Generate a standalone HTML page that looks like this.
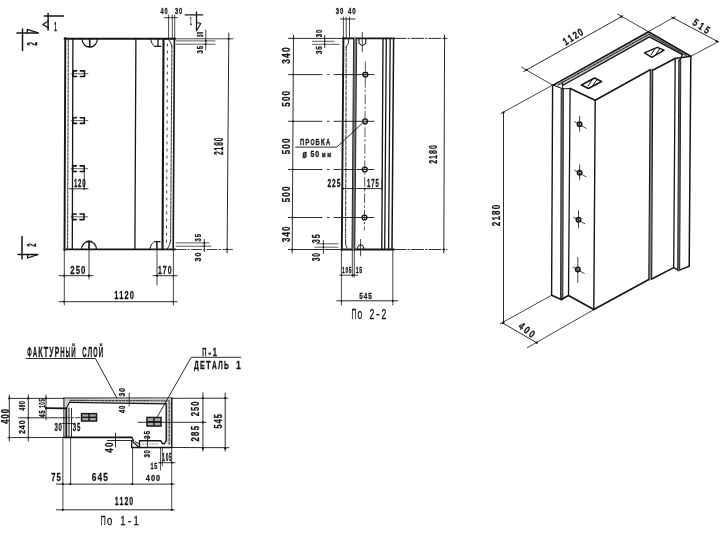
<!DOCTYPE html>
<html><head><meta charset="utf-8"><style>
html,body{margin:0;padding:0;background:#fff;}
svg{display:block;will-change:transform;}
text{font-family:"Liberation Sans",sans-serif;}
</style></head><body>
<svg width="725" height="538" viewBox="0 0 725 538" stroke-linecap="round">
<line x1="64.50" y1="38.80" x2="175.20" y2="38.80" stroke="#161616" stroke-width="1.9"/>
<line x1="64.50" y1="249.40" x2="175.20" y2="249.40" stroke="#161616" stroke-width="1.9"/>
<line x1="65.30" y1="38.00" x2="64.50" y2="250.20" stroke="#161616" stroke-width="1.9"/>
<line x1="174.40" y1="38.00" x2="173.20" y2="250.20" stroke="#161616" stroke-width="1.6"/>
<line x1="68.30" y1="39.50" x2="67.60" y2="249.00" stroke="#161616" stroke-width="0.9" stroke-dasharray="3,1.2"/>
<line x1="72.90" y1="39.00" x2="72.30" y2="249.40" stroke="#161616" stroke-width="1.3"/>
<line x1="135.90" y1="39.00" x2="134.90" y2="249.40" stroke="#161616" stroke-width="1.3"/>
<line x1="163.50" y1="39.00" x2="162.50" y2="249.40" stroke="#161616" stroke-width="2.1"/>
<line x1="171.90" y1="46.00" x2="170.60" y2="241.00" stroke="#161616" stroke-width="0.9" stroke-dasharray="3,1.2"/>
<path d="M163.8,39 L168,39 Q170.5,41 171.9,46" stroke="#161616" stroke-width="0.9" fill="none"/>
<path d="M167.5,44 L166.5,244" stroke="#161616" stroke-width="0.8" fill="none" stroke-dasharray="2,5"/>
<path d="M170.6,241 Q170,246 167.2,249" stroke="#161616" stroke-width="0.9" fill="none"/>
<path d="M82,38.8 A7.7,8.4 0 0 0 97.4,38.8" stroke="#161616" stroke-width="1.2" fill="none"/>
<line x1="89.70" y1="38.80" x2="89.70" y2="47.00" stroke="#161616" stroke-width="1.6"/>
<line x1="87.00" y1="46.50" x2="92.00" y2="46.50" stroke="#161616" stroke-width="1.2"/>
<path d="M81.5,249.4 A7.5,8 0 0 1 96.5,249.4" stroke="#161616" stroke-width="1.2" fill="none"/>
<line x1="89.00" y1="241.00" x2="89.00" y2="249.40" stroke="#161616" stroke-width="1.6"/>
<line x1="86.50" y1="241.50" x2="91.50" y2="241.50" stroke="#161616" stroke-width="1.3"/>
<path d="M150.5,39 Q151.5,44 153.5,45.5" stroke="#161616" stroke-width="1.0" fill="none"/>
<line x1="158.00" y1="39.00" x2="158.00" y2="46.30" stroke="#161616" stroke-width="1.3"/>
<line x1="154.50" y1="46.30" x2="161.00" y2="46.30" stroke="#161616" stroke-width="1.2"/>
<path d="M149.5,249.4 Q151,244 153,242.5" stroke="#161616" stroke-width="1.0" fill="none"/>
<line x1="156.90" y1="241.60" x2="156.90" y2="249.40" stroke="#161616" stroke-width="1.5"/>
<line x1="154.50" y1="241.60" x2="160.00" y2="241.60" stroke="#161616" stroke-width="1.4"/>
<path d="M76.60,70.90 L73.00,70.90 L73.00,76.50 L76.60,76.50" stroke="#161616" stroke-width="1.6" fill="none" stroke-linejoin="round"/>
<path d="M80.40,70.90 L84.50,70.90 L84.50,76.50 L80.40,76.50" stroke="#161616" stroke-width="1.6" fill="none" stroke-linejoin="round"/>
<line x1="71.50" y1="73.70" x2="88.00" y2="73.70" stroke="#161616" stroke-width="0.7"/>
<path d="M76.47,117.80 L72.87,117.80 L72.87,123.40 L76.47,123.40" stroke="#161616" stroke-width="1.6" fill="none" stroke-linejoin="round"/>
<path d="M80.27,117.80 L84.37,117.80 L84.37,123.40 L80.27,123.40" stroke="#161616" stroke-width="1.6" fill="none" stroke-linejoin="round"/>
<line x1="71.37" y1="120.60" x2="87.87" y2="120.60" stroke="#161616" stroke-width="0.7"/>
<path d="M76.33,165.90 L72.73,165.90 L72.73,171.50 L76.33,171.50" stroke="#161616" stroke-width="1.6" fill="none" stroke-linejoin="round"/>
<path d="M80.13,165.90 L84.23,165.90 L84.23,171.50 L80.13,171.50" stroke="#161616" stroke-width="1.6" fill="none" stroke-linejoin="round"/>
<line x1="71.23" y1="168.70" x2="87.73" y2="168.70" stroke="#161616" stroke-width="0.7"/>
<path d="M76.19,214.00 L72.59,214.00 L72.59,219.60 L76.19,219.60" stroke="#161616" stroke-width="1.6" fill="none" stroke-linejoin="round"/>
<path d="M79.99,214.00 L84.09,214.00 L84.09,219.60 L79.99,219.60" stroke="#161616" stroke-width="1.6" fill="none" stroke-linejoin="round"/>
<line x1="71.09" y1="216.80" x2="87.59" y2="216.80" stroke="#161616" stroke-width="0.7"/>
<g transform="translate(79.75,183.25) rotate(0)" fill="#161616"><text transform="translate(-5.83,3.75) scale(0.00600,0.01090)" font-size="1000" font-weight="bold" stroke="#161616" stroke-width="30">1</text><text transform="translate(-1.67,3.75) scale(0.00600,0.01090)" font-size="1000" font-weight="bold" stroke="#161616" stroke-width="30">2</text><text transform="translate(2.50,3.75) scale(0.00600,0.01090)" font-size="1000" font-weight="bold" stroke="#161616" stroke-width="30">0</text></g>
<line x1="69.30" y1="188.80" x2="88.00" y2="188.80" stroke="#161616" stroke-width="0.9"/>
<circle cx="84.3" cy="188.8" r="0.9" fill="#161616"/>
<circle cx="72.5" cy="188.8" r="0.9" fill="#161616"/>
<line x1="84.30" y1="171.50" x2="84.30" y2="189.00" stroke="#161616" stroke-width="0.8"/>
<line x1="64.30" y1="250.00" x2="64.30" y2="305.00" stroke="#161616" stroke-width="0.8"/>
<line x1="89.00" y1="250.00" x2="89.00" y2="279.00" stroke="#161616" stroke-width="0.8"/>
<line x1="157.00" y1="250.00" x2="157.00" y2="285.00" stroke="#161616" stroke-width="0.8"/>
<line x1="173.40" y1="250.00" x2="173.40" y2="305.00" stroke="#161616" stroke-width="0.8"/>
<line x1="59.00" y1="275.70" x2="93.00" y2="275.70" stroke="#161616" stroke-width="0.9"/>
<circle cx="64.3" cy="275.7" r="1.1" fill="#161616"/>
<circle cx="89" cy="275.7" r="1.1" fill="#161616"/>
<line x1="153.00" y1="275.70" x2="177.00" y2="275.70" stroke="#161616" stroke-width="0.9"/>
<circle cx="157" cy="275.7" r="1.1" fill="#161616"/>
<circle cx="173.4" cy="275.7" r="1.1" fill="#161616"/>
<line x1="59.00" y1="301.70" x2="177.00" y2="301.70" stroke="#161616" stroke-width="0.9"/>
<circle cx="64.3" cy="301.7" r="1.1" fill="#161616"/>
<circle cx="173.4" cy="301.7" r="1.1" fill="#161616"/>
<g transform="translate(77.80,269.95) rotate(0)" fill="#161616"><text transform="translate(-7.56,3.95) scale(0.00777,0.01148)" font-size="1000" font-weight="bold" stroke="#161616" stroke-width="26">2</text><text transform="translate(-2.16,3.95) scale(0.00777,0.01148)" font-size="1000" font-weight="bold" stroke="#161616" stroke-width="26">5</text><text transform="translate(3.24,3.95) scale(0.00777,0.01148)" font-size="1000" font-weight="bold" stroke="#161616" stroke-width="26">0</text></g>
<g transform="translate(164.75,269.95) rotate(0)" fill="#161616"><text transform="translate(-6.77,3.95) scale(0.00695,0.01148)" font-size="1000" font-weight="bold" stroke="#161616" stroke-width="27">1</text><text transform="translate(-1.93,3.95) scale(0.00695,0.01148)" font-size="1000" font-weight="bold" stroke="#161616" stroke-width="27">7</text><text transform="translate(2.90,3.95) scale(0.00695,0.01148)" font-size="1000" font-weight="bold" stroke="#161616" stroke-width="27">0</text></g>
<g transform="translate(124.00,295.55) rotate(0)" fill="#161616"><text transform="translate(-9.79,3.65) scale(0.00741,0.01061)" font-size="1000" font-weight="bold" stroke="#161616" stroke-width="28">1</text><text transform="translate(-4.64,3.65) scale(0.00741,0.01061)" font-size="1000" font-weight="bold" stroke="#161616" stroke-width="28">1</text><text transform="translate(0.52,3.65) scale(0.00741,0.01061)" font-size="1000" font-weight="bold" stroke="#161616" stroke-width="28">2</text><text transform="translate(5.67,3.65) scale(0.00741,0.01061)" font-size="1000" font-weight="bold" stroke="#161616" stroke-width="28">0</text></g>
<line x1="176.00" y1="38.80" x2="233.00" y2="38.80" stroke="#161616" stroke-width="0.8"/>
<line x1="176.00" y1="249.50" x2="233.00" y2="249.50" stroke="#161616" stroke-width="0.8" stroke-dasharray="10,2,1.5,2"/>
<line x1="228.80" y1="33.00" x2="227.10" y2="253.00" stroke="#161616" stroke-width="0.9"/>
<circle cx="228.7" cy="38.8" r="1.1" fill="#161616"/>
<circle cx="227.2" cy="249.4" r="1.1" fill="#161616"/>
<g transform="translate(219.10,146.30) rotate(-90)" fill="#161616"><text transform="translate(-8.65,4.10) scale(0.00655,0.01192)" font-size="1000" font-weight="bold" stroke="#161616" stroke-width="27">2</text><text transform="translate(-4.10,4.10) scale(0.00655,0.01192)" font-size="1000" font-weight="bold" stroke="#161616" stroke-width="27">1</text><text transform="translate(0.46,4.10) scale(0.00655,0.01192)" font-size="1000" font-weight="bold" stroke="#161616" stroke-width="27">8</text><text transform="translate(5.01,4.10) scale(0.00655,0.01192)" font-size="1000" font-weight="bold" stroke="#161616" stroke-width="27">0</text></g>
<line x1="176.00" y1="40.90" x2="215.00" y2="40.90" stroke="#161616" stroke-width="0.7"/>
<line x1="176.00" y1="44.20" x2="215.00" y2="44.20" stroke="#161616" stroke-width="0.7"/>
<line x1="205.80" y1="30.00" x2="205.80" y2="50.00" stroke="#161616" stroke-width="0.8"/>
<circle cx="205.8" cy="40.9" r="0.9" fill="#161616"/>
<circle cx="205.8" cy="44.2" r="0.9" fill="#161616"/>
<g transform="translate(199.75,34.50) rotate(-90)" fill="#161616"><text transform="translate(-2.61,3.25) scale(0.00417,0.00945)" font-size="1000" font-weight="bold" stroke="#161616" stroke-width="37">3</text><text transform="translate(0.29,3.25) scale(0.00417,0.00945)" font-size="1000" font-weight="bold" stroke="#161616" stroke-width="37">0</text></g>
<g transform="translate(199.75,49.75) rotate(-90)" fill="#161616"><text transform="translate(-3.83,3.25) scale(0.00612,0.00945)" font-size="1000" font-weight="bold" stroke="#161616" stroke-width="32">3</text><text transform="translate(0.42,3.25) scale(0.00612,0.00945)" font-size="1000" font-weight="bold" stroke="#161616" stroke-width="32">5</text></g>
<line x1="176.00" y1="242.90" x2="209.00" y2="242.90" stroke="#161616" stroke-width="0.7"/>
<line x1="176.00" y1="246.20" x2="211.00" y2="246.20" stroke="#161616" stroke-width="0.7"/>
<line x1="204.30" y1="239.50" x2="204.30" y2="251.50" stroke="#161616" stroke-width="0.9"/>
<circle cx="204.3" cy="243" r="0.9" fill="#161616"/>
<circle cx="204.3" cy="246.2" r="0.9" fill="#161616"/>
<g transform="translate(197.85,237.75) rotate(-90)" fill="#161616"><text transform="translate(-3.74,3.35) scale(0.00597,0.00974)" font-size="1000" font-weight="bold" stroke="#161616" stroke-width="32">3</text><text transform="translate(0.42,3.35) scale(0.00597,0.00974)" font-size="1000" font-weight="bold" stroke="#161616" stroke-width="32">5</text></g>
<g transform="translate(197.85,257.00) rotate(-90)" fill="#161616"><text transform="translate(-4.50,3.35) scale(0.00719,0.00974)" font-size="1000" font-weight="bold" stroke="#161616" stroke-width="30">3</text><text transform="translate(0.50,3.35) scale(0.00719,0.00974)" font-size="1000" font-weight="bold" stroke="#161616" stroke-width="30">0</text></g>
<line x1="168.60" y1="15.00" x2="168.60" y2="38.80" stroke="#161616" stroke-width="0.8"/>
<line x1="172.30" y1="15.00" x2="172.30" y2="38.80" stroke="#161616" stroke-width="0.8"/>
<line x1="174.70" y1="15.00" x2="174.70" y2="38.80" stroke="#161616" stroke-width="0.8"/>
<line x1="164.40" y1="17.70" x2="177.40" y2="17.70" stroke="#161616" stroke-width="0.9"/>
<g transform="translate(164.15,10.25) rotate(0)" fill="#161616"><text transform="translate(-3.56,3.25) scale(0.00568,0.00945)" font-size="1000" font-weight="bold" stroke="#161616" stroke-width="33">4</text><text transform="translate(0.40,3.25) scale(0.00568,0.00945)" font-size="1000" font-weight="bold" stroke="#161616" stroke-width="33">0</text></g>
<g transform="translate(178.65,10.25) rotate(0)" fill="#161616"><text transform="translate(-3.56,3.25) scale(0.00568,0.00945)" font-size="1000" font-weight="bold" stroke="#161616" stroke-width="33">3</text><text transform="translate(0.40,3.25) scale(0.00568,0.00945)" font-size="1000" font-weight="bold" stroke="#161616" stroke-width="33">0</text></g>
<line x1="185.30" y1="14.90" x2="202.60" y2="14.90" stroke="#161616" stroke-width="1.4"/>
<line x1="196.50" y1="12.00" x2="196.50" y2="30.70" stroke="#161616" stroke-width="1.3"/>
<path d="M196.50,22.50 L200.80,23.50 L196.50,30.70" stroke="#161616" stroke-width="1.1" fill="none" stroke-linejoin="round"/>
<g transform="translate(190.80,20.70) rotate(0)" fill="#161616"><text transform="translate(-0.80,4.00) scale(0.00288,0.01163)" font-size="1000" font-weight="bold" stroke="#161616" stroke-width="34">1</text></g>
<line x1="44.40" y1="16.10" x2="63.40" y2="16.10" stroke="#161616" stroke-width="1.5"/>
<line x1="48.10" y1="13.40" x2="48.10" y2="30.10" stroke="#161616" stroke-width="1.5"/>
<path d="M48.10,21.20 L42.80,24.50 L48.10,27.60" stroke="#161616" stroke-width="1.3" fill="none" stroke-linejoin="round"/>
<g transform="translate(55.50,25.85) rotate(0)" fill="#161616"><text transform="translate(-1.28,4.65) scale(0.00460,0.01352)" font-size="1000" font-weight="bold" stroke="#161616" stroke-width="28">1</text></g>
<line x1="22.50" y1="29.10" x2="22.50" y2="50.50" stroke="#161616" stroke-width="1.5"/>
<line x1="17.00" y1="32.90" x2="38.30" y2="32.90" stroke="#161616" stroke-width="1.5"/>
<path d="M27.20,32.90 L27.20,29.30 L37.50,32.70" stroke="#161616" stroke-width="1.3" fill="none" stroke-linejoin="round"/>
<g transform="translate(32.05,44.00) rotate(-90)" fill="#161616"><text transform="translate(-1.84,4.85) scale(0.00662,0.01410)" font-size="1000" font-weight="bold" stroke="#161616" stroke-width="24">2</text></g>
<line x1="22.00" y1="236.50" x2="22.00" y2="258.90" stroke="#161616" stroke-width="1.5"/>
<line x1="18.10" y1="254.40" x2="37.60" y2="254.40" stroke="#161616" stroke-width="1.5"/>
<path d="M27.60,254.40 L27.60,258.00 L37.50,254.60" stroke="#161616" stroke-width="1.3" fill="none" stroke-linejoin="round"/>
<g transform="translate(31.45,245.10) rotate(-90)" fill="#161616"><text transform="translate(-1.68,4.25) scale(0.00604,0.01235)" font-size="1000" font-weight="bold" stroke="#161616" stroke-width="27">2</text></g>
<line x1="288.40" y1="38.40" x2="343.40" y2="38.40" stroke="#161616" stroke-width="0.9"/>
<line x1="343.00" y1="38.40" x2="394.00" y2="38.40" stroke="#161616" stroke-width="1.8"/>
<line x1="394.00" y1="38.40" x2="447.00" y2="38.40" stroke="#161616" stroke-width="0.9" stroke-dasharray="12,2,1.5,2"/>
<line x1="288.40" y1="249.50" x2="343.40" y2="249.50" stroke="#161616" stroke-width="0.9"/>
<line x1="343.00" y1="249.50" x2="394.00" y2="249.50" stroke="#161616" stroke-width="1.8"/>
<line x1="394.00" y1="249.50" x2="447.00" y2="249.50" stroke="#161616" stroke-width="0.9" stroke-dasharray="12,2,1.5,2"/>
<line x1="343.40" y1="38.00" x2="341.80" y2="250.00" stroke="#161616" stroke-width="1.9"/>
<line x1="346.20" y1="47.00" x2="345.60" y2="244.00" stroke="#161616" stroke-width="0.9" stroke-dasharray="4,1.5"/>
<path d="M345.6,244 Q346,246 347,248" stroke="#161616" stroke-width="0.9" fill="none"/>
<path d="M343.5,38.6 L349,38.8 Q349,44 346.2,47" stroke="#161616" stroke-width="0.9" fill="none"/>
<path d="M355.10,38.40 L353.40,249.50" stroke="#7a7a7a" stroke-width="3.0" fill="none" stroke-linejoin="round"/>
<line x1="353.60" y1="38.40" x2="352.00" y2="249.50" stroke="#161616" stroke-width="0.9"/>
<line x1="356.70" y1="38.40" x2="354.80" y2="249.50" stroke="#161616" stroke-width="0.9"/>
<line x1="383.00" y1="38.40" x2="381.80" y2="249.50" stroke="#161616" stroke-width="1.35"/>
<line x1="386.30" y1="38.40" x2="384.70" y2="249.50" stroke="#161616" stroke-width="1.3"/>
<line x1="390.20" y1="38.40" x2="388.60" y2="249.50" stroke="#161616" stroke-width="1.3"/>
<line x1="393.60" y1="38.40" x2="392.00" y2="249.50" stroke="#161616" stroke-width="1.5"/>
<path d="M359,38.6 L359,43 Q362.3,48 365.7,43 L365.7,38.6" stroke="#161616" stroke-width="1.1" fill="none"/>
<line x1="362.30" y1="32.20" x2="362.30" y2="51.80" stroke="#161616" stroke-width="0.8"/>
<circle cx="365.4" cy="74.6" r="2.4" stroke="#161616" stroke-width="1.4" fill="none"/>
<line x1="288.40" y1="74.60" x2="322.00" y2="74.60" stroke="#161616" stroke-width="0.9"/>
<line x1="327.50" y1="74.60" x2="329.00" y2="74.60" stroke="#161616" stroke-width="0.9"/>
<line x1="334.00" y1="74.60" x2="374.00" y2="74.60" stroke="#161616" stroke-width="0.9"/>
<circle cx="365.1060839160839" cy="121.3" r="2.4" stroke="#161616" stroke-width="1.4" fill="none"/>
<line x1="288.40" y1="121.30" x2="322.00" y2="121.30" stroke="#161616" stroke-width="0.9"/>
<line x1="327.50" y1="121.30" x2="329.00" y2="121.30" stroke="#161616" stroke-width="0.9"/>
<line x1="334.00" y1="121.30" x2="374.00" y2="121.30" stroke="#161616" stroke-width="0.9"/>
<circle cx="364.8027272727272" cy="169.5" r="2.4" stroke="#161616" stroke-width="1.4" fill="none"/>
<line x1="288.40" y1="169.50" x2="322.00" y2="169.50" stroke="#161616" stroke-width="0.9"/>
<line x1="327.50" y1="169.50" x2="329.00" y2="169.50" stroke="#161616" stroke-width="0.9"/>
<line x1="334.00" y1="169.50" x2="374.00" y2="169.50" stroke="#161616" stroke-width="0.9"/>
<circle cx="364.5006293706293" cy="217.5" r="2.4" stroke="#161616" stroke-width="1.4" fill="none"/>
<line x1="288.40" y1="217.50" x2="322.00" y2="217.50" stroke="#161616" stroke-width="0.9"/>
<line x1="327.50" y1="217.50" x2="329.00" y2="217.50" stroke="#161616" stroke-width="0.9"/>
<line x1="334.00" y1="217.50" x2="374.00" y2="217.50" stroke="#161616" stroke-width="0.9"/>
<line x1="365.40" y1="61.80" x2="364.40" y2="230.00" stroke="#161616" stroke-width="0.7" stroke-dasharray="9,3,1.5,3"/>
<path d="M357.2,249.5 A3.4,4.6 0 0 1 364,249.5" stroke="#161616" stroke-width="1.1" fill="none"/>
<line x1="360.60" y1="239.50" x2="360.60" y2="255.90" stroke="#161616" stroke-width="0.8"/>
<line x1="293.50" y1="35.00" x2="292.20" y2="253.00" stroke="#161616" stroke-width="0.9"/>
<circle cx="293.4797247706422" cy="38.4" r="1.1" fill="#161616"/>
<circle cx="293.2638532110092" cy="74.6" r="1.1" fill="#161616"/>
<circle cx="292.98536697247704" cy="121.3" r="1.1" fill="#161616"/>
<circle cx="292.69793577981653" cy="169.5" r="1.1" fill="#161616"/>
<circle cx="292.4116972477064" cy="217.5" r="1.1" fill="#161616"/>
<circle cx="292.22087155963305" cy="249.5" r="1.1" fill="#161616"/>
<g transform="translate(286.15,55.55) rotate(-90)" fill="#161616"><text transform="translate(-8.26,3.75) scale(0.00849,0.01090)" font-size="1000" font-weight="bold" stroke="#161616" stroke-width="26">3</text><text transform="translate(-2.36,3.75) scale(0.00849,0.01090)" font-size="1000" font-weight="bold" stroke="#161616" stroke-width="26">4</text><text transform="translate(3.54,3.75) scale(0.00849,0.01090)" font-size="1000" font-weight="bold" stroke="#161616" stroke-width="26">0</text></g>
<g transform="translate(286.15,98.85) rotate(-90)" fill="#161616"><text transform="translate(-7.79,3.75) scale(0.00801,0.01090)" font-size="1000" font-weight="bold" stroke="#161616" stroke-width="26">5</text><text transform="translate(-2.23,3.75) scale(0.00801,0.01090)" font-size="1000" font-weight="bold" stroke="#161616" stroke-width="26">0</text><text transform="translate(3.34,3.75) scale(0.00801,0.01090)" font-size="1000" font-weight="bold" stroke="#161616" stroke-width="26">0</text></g>
<g transform="translate(286.15,146.40) rotate(-90)" fill="#161616"><text transform="translate(-7.84,3.75) scale(0.00806,0.01090)" font-size="1000" font-weight="bold" stroke="#161616" stroke-width="26">5</text><text transform="translate(-2.24,3.75) scale(0.00806,0.01090)" font-size="1000" font-weight="bold" stroke="#161616" stroke-width="26">0</text><text transform="translate(3.36,3.75) scale(0.00806,0.01090)" font-size="1000" font-weight="bold" stroke="#161616" stroke-width="26">0</text></g>
<g transform="translate(286.15,194.40) rotate(-90)" fill="#161616"><text transform="translate(-7.84,3.75) scale(0.00806,0.01090)" font-size="1000" font-weight="bold" stroke="#161616" stroke-width="26">5</text><text transform="translate(-2.24,3.75) scale(0.00806,0.01090)" font-size="1000" font-weight="bold" stroke="#161616" stroke-width="26">0</text><text transform="translate(3.36,3.75) scale(0.00806,0.01090)" font-size="1000" font-weight="bold" stroke="#161616" stroke-width="26">0</text></g>
<g transform="translate(286.15,234.25) rotate(-90)" fill="#161616"><text transform="translate(-7.70,3.75) scale(0.00791,0.01090)" font-size="1000" font-weight="bold" stroke="#161616" stroke-width="27">3</text><text transform="translate(-2.20,3.75) scale(0.00791,0.01090)" font-size="1000" font-weight="bold" stroke="#161616" stroke-width="27">4</text><text transform="translate(3.30,3.75) scale(0.00791,0.01090)" font-size="1000" font-weight="bold" stroke="#161616" stroke-width="27">0</text></g>
<line x1="312.40" y1="41.30" x2="334.00" y2="41.30" stroke="#161616" stroke-width="0.7"/>
<line x1="312.40" y1="44.30" x2="339.00" y2="44.30" stroke="#161616" stroke-width="0.7"/>
<line x1="324.70" y1="35.50" x2="324.70" y2="47.60" stroke="#161616" stroke-width="0.9"/>
<circle cx="324.7" cy="41.3" r="0.8" fill="#161616"/>
<circle cx="324.7" cy="44.3" r="0.8" fill="#161616"/>
<g transform="translate(318.85,33.40) rotate(-90)" fill="#161616"><text transform="translate(-3.78,3.35) scale(0.00604,0.00974)" font-size="1000" font-weight="bold" stroke="#161616" stroke-width="32">3</text><text transform="translate(0.42,3.35) scale(0.00604,0.00974)" font-size="1000" font-weight="bold" stroke="#161616" stroke-width="32">0</text></g>
<g transform="translate(318.85,50.10) rotate(-90)" fill="#161616"><text transform="translate(-4.14,3.35) scale(0.00662,0.00974)" font-size="1000" font-weight="bold" stroke="#161616" stroke-width="31">3</text><text transform="translate(0.46,3.35) scale(0.00662,0.00974)" font-size="1000" font-weight="bold" stroke="#161616" stroke-width="31">5</text></g>
<line x1="316.50" y1="243.80" x2="338.00" y2="243.80" stroke="#161616" stroke-width="0.7"/>
<line x1="315.00" y1="247.20" x2="338.00" y2="247.20" stroke="#161616" stroke-width="0.7"/>
<line x1="323.40" y1="240.50" x2="323.40" y2="253.50" stroke="#161616" stroke-width="0.9"/>
<circle cx="323.4" cy="243.8" r="0.8" fill="#161616"/>
<circle cx="323.4" cy="247.2" r="0.8" fill="#161616"/>
<g transform="translate(316.30,238.80) rotate(-90)" fill="#161616"><text transform="translate(-4.50,3.70) scale(0.00719,0.01076)" font-size="1000" font-weight="bold" stroke="#161616" stroke-width="28">3</text><text transform="translate(0.50,3.70) scale(0.00719,0.01076)" font-size="1000" font-weight="bold" stroke="#161616" stroke-width="28">5</text></g>
<g transform="translate(316.30,257.20) rotate(-90)" fill="#161616"><text transform="translate(-4.14,3.70) scale(0.00662,0.01076)" font-size="1000" font-weight="bold" stroke="#161616" stroke-width="29">3</text><text transform="translate(0.46,3.70) scale(0.00662,0.01076)" font-size="1000" font-weight="bold" stroke="#161616" stroke-width="29">0</text></g>
<line x1="340.30" y1="19.00" x2="355.00" y2="19.00" stroke="#161616" stroke-width="0.9"/>
<line x1="343.40" y1="17.00" x2="343.40" y2="38.40" stroke="#161616" stroke-width="0.8"/>
<line x1="346.20" y1="17.00" x2="346.20" y2="38.40" stroke="#161616" stroke-width="0.8"/>
<line x1="349.50" y1="17.00" x2="349.50" y2="38.40" stroke="#161616" stroke-width="0.8"/>
<g transform="translate(339.50,10.65) rotate(0)" fill="#161616"><text transform="translate(-3.78,3.35) scale(0.00604,0.00974)" font-size="1000" font-weight="bold" stroke="#161616" stroke-width="32">3</text><text transform="translate(0.42,3.35) scale(0.00604,0.00974)" font-size="1000" font-weight="bold" stroke="#161616" stroke-width="32">0</text></g>
<g transform="translate(351.75,10.65) rotate(0)" fill="#161616"><text transform="translate(-3.83,3.35) scale(0.00612,0.00974)" font-size="1000" font-weight="bold" stroke="#161616" stroke-width="32">4</text><text transform="translate(0.42,3.35) scale(0.00612,0.00974)" font-size="1000" font-weight="bold" stroke="#161616" stroke-width="32">0</text></g>
<g transform="translate(315.10,141.25) rotate(0)" fill="#161616"><text transform="translate(-15.08,3.35) scale(0.00579,0.00974)" font-size="1000" font-weight="bold" stroke="#161616" stroke-width="32">П</text><text transform="translate(-9.88,3.35) scale(0.00624,0.00974)" font-size="1000" font-weight="bold" stroke="#161616" stroke-width="31">Р</text><text transform="translate(-4.68,3.35) scale(0.00535,0.00974)" font-size="1000" font-weight="bold" stroke="#161616" stroke-width="33">О</text><text transform="translate(0.52,3.35) scale(0.00579,0.00974)" font-size="1000" font-weight="bold" stroke="#161616" stroke-width="32">Б</text><text transform="translate(5.72,3.35) scale(0.00680,0.00974)" font-size="1000" font-weight="bold" stroke="#161616" stroke-width="30">К</text><text transform="translate(10.92,3.35) scale(0.00576,0.00974)" font-size="1000" font-weight="bold" stroke="#161616" stroke-width="32">А</text></g>
<g transform="translate(304.80,154.60) rotate(0)" fill="#161616"><text transform="translate(-2.20,3.60) scale(0.00720,0.01047)" font-size="1000" font-weight="bold" stroke="#161616" stroke-width="28">ø</text></g>
<g transform="translate(314.75,154.35) rotate(0)" fill="#161616"><text transform="translate(-4.28,3.05) scale(0.00683,0.00887)" font-size="1000" font-weight="bold" stroke="#161616" stroke-width="32">5</text><text transform="translate(0.47,3.05) scale(0.00683,0.00887)" font-size="1000" font-weight="bold" stroke="#161616" stroke-width="32">0</text></g>
<g transform="translate(326.45,155.10) rotate(0)" fill="#161616"><text transform="translate(-4.65,2.30) scale(0.00522,0.00669)" font-size="1000" font-weight="bold" stroke="#161616" stroke-width="42">м</text><text transform="translate(0.80,2.30) scale(0.00522,0.00669)" font-size="1000" font-weight="bold" stroke="#161616" stroke-width="42">м</text></g>
<path d="M295.60,147.10 L336.90,147.10 L362.60,123.00" stroke="#161616" stroke-width="0.9" fill="none" stroke-linejoin="round"/>
<line x1="341.60" y1="188.60" x2="382.00" y2="188.60" stroke="#161616" stroke-width="0.9"/>
<circle cx="343.2" cy="188.6" r="0.9" fill="#161616"/>
<circle cx="365" cy="188.6" r="0.9" fill="#161616"/>
<g transform="translate(333.95,182.65) rotate(0)" fill="#161616"><text transform="translate(-6.49,3.85) scale(0.00667,0.01119)" font-size="1000" font-weight="bold" stroke="#161616" stroke-width="28">2</text><text transform="translate(-1.85,3.85) scale(0.00667,0.01119)" font-size="1000" font-weight="bold" stroke="#161616" stroke-width="28">2</text><text transform="translate(2.78,3.85) scale(0.00667,0.01119)" font-size="1000" font-weight="bold" stroke="#161616" stroke-width="28">5</text></g>
<g transform="translate(373.00,182.65) rotate(0)" fill="#161616"><text transform="translate(-5.88,3.85) scale(0.00604,0.01119)" font-size="1000" font-weight="bold" stroke="#161616" stroke-width="29">1</text><text transform="translate(-1.68,3.85) scale(0.00604,0.01119)" font-size="1000" font-weight="bold" stroke="#161616" stroke-width="29">7</text><text transform="translate(2.52,3.85) scale(0.00604,0.01119)" font-size="1000" font-weight="bold" stroke="#161616" stroke-width="29">5</text></g>
<line x1="382.00" y1="180.00" x2="382.00" y2="190.00" stroke="#161616" stroke-width="0.8"/>
<line x1="444.60" y1="35.00" x2="443.80" y2="253.00" stroke="#161616" stroke-width="0.9"/>
<circle cx="444.6" cy="38.4" r="1.1" fill="#161616"/>
<circle cx="443.8" cy="249.5" r="1.1" fill="#161616"/>
<g transform="translate(433.15,154.50) rotate(-90)" fill="#161616"><text transform="translate(-9.31,3.65) scale(0.00705,0.01061)" font-size="1000" font-weight="bold" stroke="#161616" stroke-width="28">2</text><text transform="translate(-4.41,3.65) scale(0.00705,0.01061)" font-size="1000" font-weight="bold" stroke="#161616" stroke-width="28">1</text><text transform="translate(0.49,3.65) scale(0.00705,0.01061)" font-size="1000" font-weight="bold" stroke="#161616" stroke-width="28">8</text><text transform="translate(5.39,3.65) scale(0.00705,0.01061)" font-size="1000" font-weight="bold" stroke="#161616" stroke-width="28">0</text></g>
<line x1="341.40" y1="250.00" x2="341.40" y2="305.00" stroke="#161616" stroke-width="0.8"/>
<line x1="352.30" y1="250.00" x2="352.30" y2="277.00" stroke="#161616" stroke-width="0.8"/>
<line x1="354.30" y1="250.00" x2="354.30" y2="277.00" stroke="#161616" stroke-width="0.8"/>
<line x1="392.80" y1="250.00" x2="392.80" y2="305.00" stroke="#161616" stroke-width="0.8"/>
<line x1="340.00" y1="275.20" x2="357.60" y2="275.20" stroke="#161616" stroke-width="0.8"/>
<circle cx="341.4" cy="275.2" r="0.9" fill="#161616"/>
<circle cx="353.3" cy="275.2" r="0.9" fill="#161616"/>
<g transform="translate(346.75,270.00) rotate(0)" fill="#161616"><text transform="translate(-4.71,3.20) scale(0.00484,0.00930)" font-size="1000" font-weight="bold" stroke="#161616" stroke-width="35">1</text><text transform="translate(-1.35,3.20) scale(0.00484,0.00930)" font-size="1000" font-weight="bold" stroke="#161616" stroke-width="35">0</text><text transform="translate(2.02,3.20) scale(0.00484,0.00930)" font-size="1000" font-weight="bold" stroke="#161616" stroke-width="35">5</text></g>
<g transform="translate(359.00,270.00) rotate(0)" fill="#161616"><text transform="translate(-3.24,3.20) scale(0.00518,0.00930)" font-size="1000" font-weight="bold" stroke="#161616" stroke-width="35">1</text><text transform="translate(0.36,3.20) scale(0.00518,0.00930)" font-size="1000" font-weight="bold" stroke="#161616" stroke-width="35">5</text></g>
<line x1="336.70" y1="300.80" x2="397.80" y2="300.80" stroke="#161616" stroke-width="0.9"/>
<circle cx="341.4" cy="300.8" r="1.1" fill="#161616"/>
<circle cx="392.8" cy="300.8" r="1.1" fill="#161616"/>
<g transform="translate(365.50,295.25) rotate(0)" fill="#161616"><text transform="translate(-6.25,3.35) scale(0.00643,0.00974)" font-size="1000" font-weight="bold" stroke="#161616" stroke-width="31">5</text><text transform="translate(-1.79,3.35) scale(0.00643,0.00974)" font-size="1000" font-weight="bold" stroke="#161616" stroke-width="31">4</text><text transform="translate(2.68,3.35) scale(0.00643,0.00974)" font-size="1000" font-weight="bold" stroke="#161616" stroke-width="31">5</text></g>
<g transform="translate(368.90,313.65) rotate(0)" fill="#161616"><text transform="translate(-17.40,5.05) scale(0.00668,0.01468)" font-size="1000" font-weight="normal" stroke="#161616" stroke-width="23">П</text><text transform="translate(-11.40,5.05) scale(0.00863,0.01468)" font-size="1000" font-weight="normal" stroke="#161616" stroke-width="21">о</text><text transform="translate(0.60,5.05) scale(0.00863,0.01468)" font-size="1000" font-weight="normal" stroke="#161616" stroke-width="21">2</text><text transform="translate(7.09,5.05) scale(0.01145,0.01468)" font-size="1000" font-weight="normal" stroke="#161616" stroke-width="19">-</text><text transform="translate(12.60,5.05) scale(0.00863,0.01468)" font-size="1000" font-weight="normal" stroke="#161616" stroke-width="21">2</text></g>
<line x1="552.60" y1="85.10" x2="551.60" y2="295.30" stroke="#161616" stroke-width="1.4"/>
<line x1="562.30" y1="89.30" x2="561.70" y2="299.40" stroke="#9a9a9a" stroke-width="2.6"/>
<line x1="561.20" y1="89.30" x2="560.60" y2="299.40" stroke="#161616" stroke-width="0.9"/>
<line x1="563.40" y1="89.30" x2="562.80" y2="299.40" stroke="#161616" stroke-width="0.9"/>
<line x1="562.30" y1="89.30" x2="561.70" y2="299.40" stroke="#333" stroke-width="0.8" stroke-dasharray="1.2,1.2"/>
<line x1="570.10" y1="88.50" x2="568.50" y2="295.60" stroke="#161616" stroke-width="1.3"/>
<line x1="595.20" y1="100.20" x2="593.80" y2="309.60" stroke="#161616" stroke-width="1.4"/>
<path d="M551.60,295.30 L561.20,299.50 L568.50,295.60 L593.80,309.60 L648.80,279.60" stroke="#161616" stroke-width="1.7" fill="none" stroke-linejoin="round"/>
<path d="M651.70,279.00 L673.70,267.60 L678.70,270.40 L689.20,266.20" stroke="#161616" stroke-width="1.5" fill="none" stroke-linejoin="round"/>
<path d="M570.10,88.50 L595.20,100.20 L650.20,69.80 L653.70,69.80 L675.00,58.50" stroke="#161616" stroke-width="1.6" fill="none" stroke-linejoin="round"/>
<line x1="651.50" y1="69.80" x2="650.20" y2="279.30" stroke="#888" stroke-width="2.4"/>
<line x1="650.30" y1="69.80" x2="648.80" y2="279.60" stroke="#161616" stroke-width="1.1"/>
<line x1="652.70" y1="69.80" x2="651.70" y2="279.00" stroke="#161616" stroke-width="1.1"/>
<line x1="675.20" y1="58.50" x2="673.70" y2="267.60" stroke="#161616" stroke-width="1.3"/>
<line x1="679.80" y1="60.20" x2="678.70" y2="270.40" stroke="#9a9a9a" stroke-width="2.4"/>
<line x1="678.80" y1="60.20" x2="677.70" y2="270.40" stroke="#161616" stroke-width="0.9"/>
<line x1="680.80" y1="60.20" x2="679.70" y2="270.40" stroke="#161616" stroke-width="0.9"/>
<line x1="679.80" y1="60.20" x2="678.70" y2="270.40" stroke="#333" stroke-width="0.8" stroke-dasharray="1.2,1.2"/>
<line x1="690.80" y1="56.30" x2="689.20" y2="266.20" stroke="#161616" stroke-width="1.5"/>
<path d="M553.20,85.10 L648.50,31.70 L690.80,56.30 L682.50,54.60 L649.40,36.90 L562.60,85.50 Z" stroke="none" stroke-width="0.1" fill="#c4c4c4" stroke-linejoin="round"/>
<path d="M553.20,85.10 L648.50,31.70 L690.80,56.30 L675.00,58.50" stroke="#161616" stroke-width="1.6" fill="none" stroke-linejoin="round"/>
<path d="M562.60,85.50 L649.40,36.90 L682.50,54.60 L679.80,60.20" stroke="#161616" stroke-width="1.3" fill="none" stroke-linejoin="round"/>
<path d="M558.00,84.90 L649.00,34.30 L686.50,55.80" stroke="#333" stroke-width="1.2" fill="none" stroke-linejoin="round" stroke-dasharray="2.5,1.2"/>
<path d="M553.20,85.10 L562.60,88.80 L570.10,88.50" stroke="#161616" stroke-width="1.1" fill="none" stroke-linejoin="round"/>
<line x1="562.60" y1="83.50" x2="562.60" y2="89.00" stroke="#161616" stroke-width="1.0"/>
<path d="M581.40,85.00 L594.60,78.00 L601.60,81.50 L588.40,88.50 Z" stroke="#161616" stroke-width="1.5" fill="none" stroke-linejoin="round"/>
<line x1="588.00" y1="86.00" x2="592.00" y2="80.00" stroke="#161616" stroke-width="1.0"/>
<line x1="592.50" y1="86.00" x2="597.00" y2="79.50" stroke="#161616" stroke-width="1.0"/>
<path d="M644.50,52.90 L657.30,47.30 L664.00,50.10 L651.80,57.40 Z" stroke="#161616" stroke-width="1.4" fill="none" stroke-linejoin="round"/>
<line x1="651.00" y1="55.00" x2="654.50" y2="49.50" stroke="#161616" stroke-width="1.0"/>
<line x1="655.50" y1="55.00" x2="659.50" y2="49.00" stroke="#161616" stroke-width="1.0"/>
<circle cx="579.6" cy="124.3" r="2.2" stroke="#161616" stroke-width="1.6" fill="none"/>
<line x1="579.60" y1="116.30" x2="579.60" y2="131.30" stroke="#161616" stroke-width="0.8"/>
<line x1="574.60" y1="121.80" x2="586.10" y2="128.30" stroke="#161616" stroke-width="0.8"/>
<circle cx="579.6" cy="172.8" r="2.2" stroke="#161616" stroke-width="1.6" fill="none"/>
<line x1="579.60" y1="164.80" x2="579.60" y2="179.80" stroke="#161616" stroke-width="0.8"/>
<line x1="574.60" y1="170.30" x2="586.10" y2="176.80" stroke="#161616" stroke-width="0.8"/>
<circle cx="578.5" cy="219.8" r="2.2" stroke="#161616" stroke-width="1.6" fill="none"/>
<line x1="578.50" y1="210.80" x2="578.50" y2="227.80" stroke="#161616" stroke-width="0.8"/>
<line x1="573.50" y1="217.30" x2="585.00" y2="223.80" stroke="#161616" stroke-width="0.8"/>
<circle cx="577.8" cy="269.5" r="2.2" stroke="#161616" stroke-width="1.6" fill="none"/>
<line x1="577.80" y1="257.50" x2="577.80" y2="282.50" stroke="#161616" stroke-width="0.8"/>
<line x1="572.80" y1="267.00" x2="584.30" y2="273.50" stroke="#161616" stroke-width="0.8"/>
<line x1="552.60" y1="85.10" x2="521.50" y2="67.20" stroke="#161616" stroke-width="0.8"/>
<line x1="648.40" y1="31.70" x2="617.50" y2="14.00" stroke="#161616" stroke-width="0.8"/>
<line x1="523.50" y1="71.60" x2="623.00" y2="15.80" stroke="#161616" stroke-width="0.9"/>
<circle cx="526.5" cy="69.9" r="1.1" fill="#161616"/>
<circle cx="621.3" cy="16.7" r="1.1" fill="#161616"/>
<g transform="translate(573.00,36.80) rotate(-32)" fill="#161616"><text transform="translate(-10.97,3.60) scale(0.00816,0.01047)" font-size="1000" font-weight="bold" stroke="#161616" stroke-width="27">1</text><text transform="translate(-5.17,3.60) scale(0.00816,0.01047)" font-size="1000" font-weight="bold" stroke="#161616" stroke-width="27">1</text><text transform="translate(0.63,3.60) scale(0.00816,0.01047)" font-size="1000" font-weight="bold" stroke="#161616" stroke-width="27">2</text><text transform="translate(6.43,3.60) scale(0.00816,0.01047)" font-size="1000" font-weight="bold" stroke="#161616" stroke-width="27">0</text></g>
<line x1="648.40" y1="31.70" x2="675.20" y2="16.60" stroke="#161616" stroke-width="0.8"/>
<line x1="690.80" y1="56.30" x2="718.50" y2="41.50" stroke="#161616" stroke-width="0.8"/>
<line x1="671.70" y1="17.10" x2="718.50" y2="42.00" stroke="#161616" stroke-width="0.9"/>
<circle cx="673.5" cy="18" r="1.1" fill="#161616"/>
<circle cx="716.5" cy="41" r="1.1" fill="#161616"/>
<g transform="translate(701.40,26.20) rotate(33)" fill="#161616"><text transform="translate(-9.20,3.60) scale(0.00816,0.01047)" font-size="1000" font-weight="bold" stroke="#161616" stroke-width="27">5</text><text transform="translate(-2.27,3.60) scale(0.00816,0.01047)" font-size="1000" font-weight="bold" stroke="#161616" stroke-width="27">1</text><text transform="translate(4.66,3.60) scale(0.00816,0.01047)" font-size="1000" font-weight="bold" stroke="#161616" stroke-width="27">5</text></g>
<line x1="552.60" y1="85.10" x2="501.00" y2="113.50" stroke="#161616" stroke-width="0.8"/>
<line x1="551.60" y1="295.30" x2="500.30" y2="323.70" stroke="#161616" stroke-width="0.8"/>
<line x1="503.50" y1="112.60" x2="503.50" y2="322.70" stroke="#161616" stroke-width="0.9"/>
<circle cx="503.5" cy="112.6" r="1.1" fill="#161616"/>
<circle cx="503.5" cy="322.7" r="1.1" fill="#161616"/>
<g transform="translate(495.70,215.50) rotate(-90)" fill="#161616"><text transform="translate(-10.74,4.00) scale(0.00813,0.01163)" font-size="1000" font-weight="bold" stroke="#161616" stroke-width="25">2</text><text transform="translate(-5.09,4.00) scale(0.00813,0.01163)" font-size="1000" font-weight="bold" stroke="#161616" stroke-width="25">1</text><text transform="translate(0.57,4.00) scale(0.00813,0.01163)" font-size="1000" font-weight="bold" stroke="#161616" stroke-width="25">8</text><text transform="translate(6.22,4.00) scale(0.00813,0.01163)" font-size="1000" font-weight="bold" stroke="#161616" stroke-width="25">0</text></g>
<line x1="593.80" y1="309.60" x2="527.30" y2="347.70" stroke="#161616" stroke-width="0.8"/>
<line x1="502.60" y1="323.00" x2="537.50" y2="343.20" stroke="#161616" stroke-width="0.9"/>
<circle cx="536.7" cy="342.7" r="1.1" fill="#161616"/>
<circle cx="502.8" cy="323" r="1.1" fill="#161616"/>
<g transform="translate(526.90,330.00) rotate(37)" fill="#161616"><text transform="translate(-8.77,3.60) scale(0.00816,0.01047)" font-size="1000" font-weight="bold" stroke="#161616" stroke-width="27">4</text><text transform="translate(-2.27,3.60) scale(0.00816,0.01047)" font-size="1000" font-weight="bold" stroke="#161616" stroke-width="27">0</text><text transform="translate(4.23,3.60) scale(0.00816,0.01047)" font-size="1000" font-weight="bold" stroke="#161616" stroke-width="27">0</text></g>
<line x1="9.00" y1="398.40" x2="63.90" y2="398.40" stroke="#161616" stroke-width="0.9"/>
<line x1="63.90" y1="398.40" x2="171.80" y2="398.30" stroke="#161616" stroke-width="1.8"/>
<line x1="171.80" y1="398.30" x2="227.70" y2="398.20" stroke="#161616" stroke-width="0.9"/>
<path d="M64.00,398.40 L171.80,398.30 L171.80,445.00 L166.20,443.00 L166.20,403.90 L69.50,402.30 L66.30,408.40 L64.00,408.40 Z" stroke="none" stroke-width="0.1" fill="#d0d0d0" stroke-linejoin="round"/>
<path d="M69.50,402.30 L166.20,403.90" stroke="#161616" stroke-width="1.3" fill="none" stroke-linejoin="round"/>
<line x1="70.00" y1="400.40" x2="169.00" y2="400.80" stroke="#444" stroke-width="1.2" stroke-dasharray="2.2,1.3"/>
<path d="M166.20,403.90 L166.20,440.50 L164.50,443.80 L162.50,443.50 L160.70,440.70 L139.50,440.70 L139.50,447.50" stroke="#161616" stroke-width="1.4" fill="none" stroke-linejoin="round"/>
<line x1="169.20" y1="402.00" x2="169.20" y2="445.00" stroke="#444" stroke-width="1.1" stroke-dasharray="2.5,1.5"/>
<line x1="63.90" y1="398.40" x2="63.90" y2="437.40" stroke="#161616" stroke-width="1.0"/>
<line x1="62.90" y1="437.40" x2="62.90" y2="510.00" stroke="#161616" stroke-width="0.8"/>
<line x1="66.30" y1="408.40" x2="66.30" y2="437.40" stroke="#161616" stroke-width="1.8"/>
<line x1="69.00" y1="408.00" x2="69.00" y2="437.00" stroke="#161616" stroke-width="1.0"/>
<line x1="71.50" y1="408.40" x2="71.50" y2="437.40" stroke="#161616" stroke-width="0.9"/>
<line x1="70.60" y1="437.40" x2="70.60" y2="484.00" stroke="#161616" stroke-width="0.8"/>
<line x1="46.00" y1="408.20" x2="66.50" y2="408.40" stroke="#161616" stroke-width="1.8"/>
<line x1="69.50" y1="402.30" x2="66.30" y2="408.40" stroke="#161616" stroke-width="1.1"/>
<line x1="18.60" y1="417.80" x2="64.00" y2="417.80" stroke="#161616" stroke-width="0.9"/>
<line x1="64.00" y1="417.80" x2="80.00" y2="417.70" stroke="#161616" stroke-width="0.8" stroke-dasharray="6,2,1.5,2"/>
<rect x="80.8" y="412.9" width="16.50" height="8.90" fill="#1a1a1a"/>
<rect x="82.30" y="414.40" width="6.00" height="2.20" fill="#a8a8a8"/>
<rect x="82.30" y="418.10" width="6.00" height="2.20" fill="#a8a8a8"/>
<rect x="89.80" y="414.40" width="6.00" height="2.20" fill="#a8a8a8"/>
<rect x="89.80" y="418.10" width="6.00" height="2.20" fill="#a8a8a8"/>
<line x1="8.00" y1="437.60" x2="63.90" y2="437.50" stroke="#161616" stroke-width="0.9"/>
<line x1="63.90" y1="437.40" x2="131.70" y2="437.40" stroke="#161616" stroke-width="1.6"/>
<path d="M131.70,437.40 L133.50,440.50 L131.70,441.00 L131.70,447.50" stroke="#161616" stroke-width="1.3" fill="none" stroke-linejoin="round"/>
<line x1="133.00" y1="442.00" x2="138.00" y2="446.50" stroke="#161616" stroke-width="1.2"/>
<line x1="135.00" y1="441.50" x2="139.00" y2="444.00" stroke="#161616" stroke-width="1.0"/>
<line x1="107.50" y1="440.50" x2="131.70" y2="440.50" stroke="#161616" stroke-width="0.9"/>
<line x1="131.70" y1="447.50" x2="171.80" y2="447.50" stroke="#161616" stroke-width="1.7"/>
<line x1="171.80" y1="447.50" x2="229.00" y2="447.70" stroke="#161616" stroke-width="0.9"/>
<line x1="171.80" y1="398.30" x2="171.80" y2="447.50" stroke="#161616" stroke-width="1.4"/>
<line x1="171.70" y1="448.00" x2="171.70" y2="510.00" stroke="#161616" stroke-width="0.8"/>
<line x1="132.60" y1="448.00" x2="132.60" y2="484.00" stroke="#161616" stroke-width="0.8"/>
<line x1="142.00" y1="444.00" x2="158.00" y2="444.00" stroke="#777" stroke-width="0.8" stroke-dasharray="2,1.5"/>
<rect x="146.2" y="416.7" width="15.60" height="10.10" fill="#1a1a1a"/>
<rect x="147.70" y="418.20" width="5.55" height="2.80" fill="#a8a8a8"/>
<rect x="147.70" y="422.50" width="5.55" height="2.80" fill="#a8a8a8"/>
<rect x="154.75" y="418.20" width="5.55" height="2.80" fill="#a8a8a8"/>
<rect x="154.75" y="422.50" width="5.55" height="2.80" fill="#a8a8a8"/>
<line x1="138.00" y1="422.30" x2="206.00" y2="422.30" stroke="#161616" stroke-width="0.9"/>
<line x1="9.30" y1="395.00" x2="9.30" y2="441.00" stroke="#161616" stroke-width="0.9"/>
<circle cx="9.3" cy="398.4" r="1.1" fill="#161616"/>
<circle cx="9.3" cy="437.6" r="1.1" fill="#161616"/>
<line x1="28.30" y1="395.00" x2="28.30" y2="441.00" stroke="#161616" stroke-width="0.9"/>
<circle cx="28.3" cy="398.4" r="1.1" fill="#161616"/>
<circle cx="28.3" cy="417.8" r="1.1" fill="#161616"/>
<circle cx="28.3" cy="437.6" r="1.1" fill="#161616"/>
<line x1="46.00" y1="395.00" x2="46.00" y2="420.00" stroke="#161616" stroke-width="0.9"/>
<circle cx="46" cy="398.4" r="1.1" fill="#161616"/>
<circle cx="46" cy="408.2" r="1.1" fill="#161616"/>
<g transform="translate(5.45,416.50) rotate(-90)" fill="#161616"><text transform="translate(-7.37,3.55) scale(0.00758,0.01032)" font-size="1000" font-weight="bold" stroke="#161616" stroke-width="28">4</text><text transform="translate(-2.11,3.55) scale(0.00758,0.01032)" font-size="1000" font-weight="bold" stroke="#161616" stroke-width="28">0</text><text transform="translate(3.16,3.55) scale(0.00758,0.01032)" font-size="1000" font-weight="bold" stroke="#161616" stroke-width="28">0</text></g>
<g transform="translate(21.85,406.00) rotate(-90)" fill="#161616"><text transform="translate(-4.57,3.25) scale(0.00470,0.00945)" font-size="1000" font-weight="bold" stroke="#161616" stroke-width="35">4</text><text transform="translate(-1.31,3.25) scale(0.00470,0.00945)" font-size="1000" font-weight="bold" stroke="#161616" stroke-width="35">9</text><text transform="translate(1.96,3.25) scale(0.00470,0.00945)" font-size="1000" font-weight="bold" stroke="#161616" stroke-width="35">0</text></g>
<g transform="translate(21.85,427.15) rotate(-90)" fill="#161616"><text transform="translate(-6.95,3.25) scale(0.00715,0.00945)" font-size="1000" font-weight="bold" stroke="#161616" stroke-width="30">2</text><text transform="translate(-1.99,3.25) scale(0.00715,0.00945)" font-size="1000" font-weight="bold" stroke="#161616" stroke-width="30">4</text><text transform="translate(2.98,3.25) scale(0.00715,0.00945)" font-size="1000" font-weight="bold" stroke="#161616" stroke-width="30">0</text></g>
<g transform="translate(41.30,413.95) rotate(-90)" fill="#161616"><text transform="translate(-3.55,3.30) scale(0.00568,0.00959)" font-size="1000" font-weight="bold" stroke="#161616" stroke-width="33">4</text><text transform="translate(0.39,3.30) scale(0.00568,0.00959)" font-size="1000" font-weight="bold" stroke="#161616" stroke-width="33">5</text></g>
<g transform="translate(41.30,403.45) rotate(-90)" fill="#161616"><text transform="translate(-4.34,3.30) scale(0.00446,0.00959)" font-size="1000" font-weight="bold" stroke="#161616" stroke-width="36">1</text><text transform="translate(-1.24,3.30) scale(0.00446,0.00959)" font-size="1000" font-weight="bold" stroke="#161616" stroke-width="36">0</text><text transform="translate(1.86,3.30) scale(0.00446,0.00959)" font-size="1000" font-weight="bold" stroke="#161616" stroke-width="36">5</text></g>
<g transform="translate(58.20,427.40) rotate(0)" fill="#161616"><text transform="translate(-3.78,3.90) scale(0.00604,0.01134)" font-size="1000" font-weight="bold" stroke="#161616" stroke-width="29">3</text><text transform="translate(0.42,3.90) scale(0.00604,0.01134)" font-size="1000" font-weight="bold" stroke="#161616" stroke-width="29">0</text></g>
<g transform="translate(76.60,427.40) rotate(0)" fill="#161616"><text transform="translate(-3.78,3.90) scale(0.00604,0.01134)" font-size="1000" font-weight="bold" stroke="#161616" stroke-width="29">3</text><text transform="translate(0.42,3.90) scale(0.00604,0.01134)" font-size="1000" font-weight="bold" stroke="#161616" stroke-width="29">5</text></g>
<line x1="62.00" y1="423.50" x2="73.00" y2="423.50" stroke="#161616" stroke-width="0.8"/>
<g transform="translate(122.45,392.25) rotate(-90)" fill="#161616"><text transform="translate(-4.28,2.95) scale(0.00669,0.00858)" font-size="1000" font-weight="bold" stroke="#161616" stroke-width="33">3</text><text transform="translate(0.57,2.95) scale(0.00669,0.00858)" font-size="1000" font-weight="bold" stroke="#161616" stroke-width="33">0</text></g>
<g transform="translate(122.45,409.40) rotate(-90)" fill="#161616"><text transform="translate(-3.69,2.95) scale(0.00590,0.00858)" font-size="1000" font-weight="bold" stroke="#161616" stroke-width="35">4</text><text transform="translate(0.41,2.95) scale(0.00590,0.00858)" font-size="1000" font-weight="bold" stroke="#161616" stroke-width="35">0</text></g>
<line x1="129.20" y1="393.00" x2="129.20" y2="406.00" stroke="#161616" stroke-width="0.8"/>
<g transform="translate(109.20,447.65) rotate(-90)" fill="#161616"><text transform="translate(-5.19,3.60) scale(0.00816,0.01047)" font-size="1000" font-weight="bold" stroke="#161616" stroke-width="27">4</text><text transform="translate(0.66,3.60) scale(0.00816,0.01047)" font-size="1000" font-weight="bold" stroke="#161616" stroke-width="27">0</text></g>
<line x1="115.50" y1="433.00" x2="115.50" y2="447.00" stroke="#161616" stroke-width="0.9"/>
<g transform="translate(146.35,435.05) rotate(-90)" fill="#161616"><text transform="translate(-4.00,3.35) scale(0.00640,0.00974)" font-size="1000" font-weight="bold" stroke="#161616" stroke-width="31">3</text><text transform="translate(0.44,3.35) scale(0.00640,0.00974)" font-size="1000" font-weight="bold" stroke="#161616" stroke-width="31">5</text></g>
<g transform="translate(146.35,453.80) rotate(-90)" fill="#161616"><text transform="translate(-3.78,3.35) scale(0.00604,0.00974)" font-size="1000" font-weight="bold" stroke="#161616" stroke-width="32">3</text><text transform="translate(0.42,3.35) scale(0.00604,0.00974)" font-size="1000" font-weight="bold" stroke="#161616" stroke-width="32">0</text></g>
<line x1="147.50" y1="436.00" x2="147.50" y2="447.00" stroke="#161616" stroke-width="0.8"/>
<g transform="translate(167.00,457.50) rotate(0)" fill="#161616"><text transform="translate(-4.67,3.50) scale(0.00480,0.01017)" font-size="1000" font-weight="bold" stroke="#161616" stroke-width="33">1</text><text transform="translate(-1.33,3.50) scale(0.00480,0.01017)" font-size="1000" font-weight="bold" stroke="#161616" stroke-width="33">0</text><text transform="translate(2.00,3.50) scale(0.00480,0.01017)" font-size="1000" font-weight="bold" stroke="#161616" stroke-width="33">5</text></g>
<g transform="translate(153.85,466.45) rotate(0)" fill="#161616"><text transform="translate(-3.46,2.95) scale(0.00554,0.00858)" font-size="1000" font-weight="bold" stroke="#161616" stroke-width="35">1</text><text transform="translate(0.38,2.95) scale(0.00554,0.00858)" font-size="1000" font-weight="bold" stroke="#161616" stroke-width="35">5</text></g>
<line x1="158.60" y1="462.70" x2="175.00" y2="462.70" stroke="#161616" stroke-width="0.9"/>
<circle cx="160.5" cy="462.7" r="0.9" fill="#161616"/>
<circle cx="172" cy="462.7" r="0.9" fill="#161616"/>
<line x1="160.50" y1="448.00" x2="160.50" y2="470.00" stroke="#161616" stroke-width="0.7"/>
<line x1="162.30" y1="448.00" x2="162.30" y2="466.00" stroke="#161616" stroke-width="0.7"/>
<line x1="202.90" y1="393.00" x2="202.90" y2="451.00" stroke="#161616" stroke-width="0.9"/>
<circle cx="202.9" cy="398.2" r="1.1" fill="#161616"/>
<circle cx="202.9" cy="422.4" r="1.1" fill="#161616"/>
<circle cx="202.9" cy="448.4" r="1.1" fill="#161616"/>
<line x1="225.20" y1="393.00" x2="225.20" y2="451.00" stroke="#161616" stroke-width="0.9"/>
<circle cx="225.2" cy="398.2" r="1.1" fill="#161616"/>
<circle cx="225.2" cy="448.4" r="1.1" fill="#161616"/>
<g transform="translate(195.65,408.90) rotate(-90)" fill="#161616"><text transform="translate(-7.37,3.45) scale(0.00758,0.01003)" font-size="1000" font-weight="bold" stroke="#161616" stroke-width="28">2</text><text transform="translate(-2.11,3.45) scale(0.00758,0.01003)" font-size="1000" font-weight="bold" stroke="#161616" stroke-width="28">5</text><text transform="translate(3.16,3.45) scale(0.00758,0.01003)" font-size="1000" font-weight="bold" stroke="#161616" stroke-width="28">0</text></g>
<g transform="translate(195.65,433.75) rotate(-90)" fill="#161616"><text transform="translate(-7.74,3.45) scale(0.00782,0.01003)" font-size="1000" font-weight="bold" stroke="#161616" stroke-width="28">2</text><text transform="translate(-2.17,3.45) scale(0.00782,0.01003)" font-size="1000" font-weight="bold" stroke="#161616" stroke-width="28">8</text><text transform="translate(3.39,3.45) scale(0.00782,0.01003)" font-size="1000" font-weight="bold" stroke="#161616" stroke-width="28">5</text></g>
<g transform="translate(218.80,421.25) rotate(-90)" fill="#161616"><text transform="translate(-7.14,3.60) scale(0.00734,0.01047)" font-size="1000" font-weight="bold" stroke="#161616" stroke-width="28">5</text><text transform="translate(-2.04,3.60) scale(0.00734,0.01047)" font-size="1000" font-weight="bold" stroke="#161616" stroke-width="28">4</text><text transform="translate(3.06,3.60) scale(0.00734,0.01047)" font-size="1000" font-weight="bold" stroke="#161616" stroke-width="28">5</text></g>
<line x1="56.40" y1="484.10" x2="174.20" y2="484.10" stroke="#161616" stroke-width="0.9"/>
<circle cx="62.8" cy="484.1" r="1.1" fill="#161616"/>
<circle cx="70.3" cy="484.1" r="1.1" fill="#161616"/>
<circle cx="132.3" cy="484.1" r="1.1" fill="#161616"/>
<circle cx="171.7" cy="484.1" r="1.1" fill="#161616"/>
<line x1="56.40" y1="509.80" x2="174.20" y2="509.80" stroke="#161616" stroke-width="0.9"/>
<circle cx="62.8" cy="509.8" r="1.1" fill="#161616"/>
<circle cx="171.7" cy="509.8" r="1.1" fill="#161616"/>
<g transform="translate(55.90,477.15) rotate(0)" fill="#161616"><text transform="translate(-4.77,3.65) scale(0.00763,0.01061)" font-size="1000" font-weight="bold" stroke="#161616" stroke-width="27">7</text><text transform="translate(0.53,3.65) scale(0.00763,0.01061)" font-size="1000" font-weight="bold" stroke="#161616" stroke-width="27">5</text></g>
<g transform="translate(99.85,477.15) rotate(0)" fill="#161616"><text transform="translate(-8.07,3.65) scale(0.00828,0.01061)" font-size="1000" font-weight="bold" stroke="#161616" stroke-width="26">6</text><text transform="translate(-2.30,3.65) scale(0.00828,0.01061)" font-size="1000" font-weight="bold" stroke="#161616" stroke-width="26">4</text><text transform="translate(3.47,3.65) scale(0.00828,0.01061)" font-size="1000" font-weight="bold" stroke="#161616" stroke-width="26">5</text></g>
<g transform="translate(152.95,477.75) rotate(0)" fill="#161616"><text transform="translate(-7.22,3.25) scale(0.00737,0.00945)" font-size="1000" font-weight="bold" stroke="#161616" stroke-width="30">4</text><text transform="translate(-2.05,3.25) scale(0.00737,0.00945)" font-size="1000" font-weight="bold" stroke="#161616" stroke-width="30">0</text><text transform="translate(3.12,3.25) scale(0.00737,0.00945)" font-size="1000" font-weight="bold" stroke="#161616" stroke-width="30">0</text></g>
<g transform="translate(123.95,500.75) rotate(0)" fill="#161616"><text transform="translate(-9.17,4.05) scale(0.00694,0.01177)" font-size="1000" font-weight="bold" stroke="#161616" stroke-width="27">1</text><text transform="translate(-4.34,4.05) scale(0.00694,0.01177)" font-size="1000" font-weight="bold" stroke="#161616" stroke-width="27">1</text><text transform="translate(0.48,4.05) scale(0.00694,0.01177)" font-size="1000" font-weight="bold" stroke="#161616" stroke-width="27">2</text><text transform="translate(5.31,4.05) scale(0.00694,0.01177)" font-size="1000" font-weight="bold" stroke="#161616" stroke-width="27">0</text></g>
<g transform="translate(119.60,520.65) rotate(0)" fill="#161616"><text transform="translate(-19.14,4.65) scale(0.00734,0.01352)" font-size="1000" font-weight="normal" stroke="#161616" stroke-width="24">П</text><text transform="translate(-12.54,4.65) scale(0.00950,0.01352)" font-size="1000" font-weight="normal" stroke="#161616" stroke-width="22">о</text><text transform="translate(0.66,4.65) scale(0.00950,0.01352)" font-size="1000" font-weight="normal" stroke="#161616" stroke-width="22">1</text><text transform="translate(8.14,4.65) scale(0.01054,0.01352)" font-size="1000" font-weight="normal" stroke="#161616" stroke-width="21">-</text><text transform="translate(13.86,4.65) scale(0.00950,0.01352)" font-size="1000" font-weight="normal" stroke="#161616" stroke-width="22">1</text></g>
<g transform="translate(65.30,351.75) rotate(0)" fill="#161616"><text transform="translate(-37.95,5.05) scale(0.00515,0.01468)" font-size="1000" font-weight="bold" stroke="#161616" stroke-width="25">Ф</text><text transform="translate(-32.45,5.05) scale(0.00609,0.01468)" font-size="1000" font-weight="bold" stroke="#161616" stroke-width="24">А</text><text transform="translate(-26.95,5.05) scale(0.00719,0.01468)" font-size="1000" font-weight="bold" stroke="#161616" stroke-width="23">К</text><text transform="translate(-21.45,5.05) scale(0.00720,0.01468)" font-size="1000" font-weight="bold" stroke="#161616" stroke-width="23">Т</text><text transform="translate(-15.95,5.05) scale(0.00696,0.01468)" font-size="1000" font-weight="bold" stroke="#161616" stroke-width="23">У</text><text transform="translate(-10.45,5.05) scale(0.00660,0.01468)" font-size="1000" font-weight="bold" stroke="#161616" stroke-width="23">Р</text><text transform="translate(-4.95,5.05) scale(0.00609,0.01468)" font-size="1000" font-weight="bold" stroke="#161616" stroke-width="24">Н</text><text transform="translate(0.55,5.05) scale(0.00449,0.01468)" font-size="1000" font-weight="bold" stroke="#161616" stroke-width="26">Ы</text><text transform="translate(6.05,5.05) scale(0.00612,0.01468)" font-size="1000" font-weight="bold" stroke="#161616" stroke-width="24">Й</text><text transform="translate(17.05,5.05) scale(0.00609,0.01468)" font-size="1000" font-weight="bold" stroke="#161616" stroke-width="24">С</text><text transform="translate(22.55,5.05) scale(0.00627,0.01468)" font-size="1000" font-weight="bold" stroke="#161616" stroke-width="24">Л</text><text transform="translate(28.05,5.05) scale(0.00566,0.01468)" font-size="1000" font-weight="bold" stroke="#161616" stroke-width="25">О</text><text transform="translate(33.55,5.05) scale(0.00612,0.01468)" font-size="1000" font-weight="bold" stroke="#161616" stroke-width="24">Й</text></g>
<path d="M26.00,358.50 L95.40,358.50 L116.70,397.70" stroke="#161616" stroke-width="0.9" fill="none" stroke-linejoin="round"/>
<g transform="translate(209.60,352.30) rotate(0)" fill="#161616"><text transform="translate(-7.28,3.90) scale(0.00579,0.01134)" font-size="1000" font-weight="bold" stroke="#161616" stroke-width="29">П</text><text transform="translate(-1.47,3.90) scale(0.00884,0.01134)" font-size="1000" font-weight="bold" stroke="#161616" stroke-width="25">-</text><text transform="translate(3.12,3.90) scale(0.00748,0.01134)" font-size="1000" font-weight="bold" stroke="#161616" stroke-width="27">1</text></g>
<g transform="translate(217.40,364.60) rotate(0)" fill="#161616"><text transform="translate(-23.40,3.90) scale(0.00674,0.01134)" font-size="1000" font-weight="bold" stroke="#161616" stroke-width="28">Д</text><text transform="translate(-17.40,3.90) scale(0.00720,0.01134)" font-size="1000" font-weight="bold" stroke="#161616" stroke-width="27">Е</text><text transform="translate(-11.40,3.90) scale(0.00786,0.01134)" font-size="1000" font-weight="bold" stroke="#161616" stroke-width="26">Т</text><text transform="translate(-5.40,3.90) scale(0.00665,0.01134)" font-size="1000" font-weight="bold" stroke="#161616" stroke-width="28">А</text><text transform="translate(0.60,3.90) scale(0.00684,0.01134)" font-size="1000" font-weight="bold" stroke="#161616" stroke-width="28">Л</text><text transform="translate(6.60,3.90) scale(0.00668,0.01134)" font-size="1000" font-weight="bold" stroke="#161616" stroke-width="28">Ь</text><text transform="translate(18.60,3.90) scale(0.00863,0.01134)" font-size="1000" font-weight="bold" stroke="#161616" stroke-width="25">1</text></g>
<path d="M240.80,357.30 L191.20,357.30 L157.50,416.50" stroke="#161616" stroke-width="0.9" fill="none" stroke-linejoin="round"/>
</svg>
</body></html>
